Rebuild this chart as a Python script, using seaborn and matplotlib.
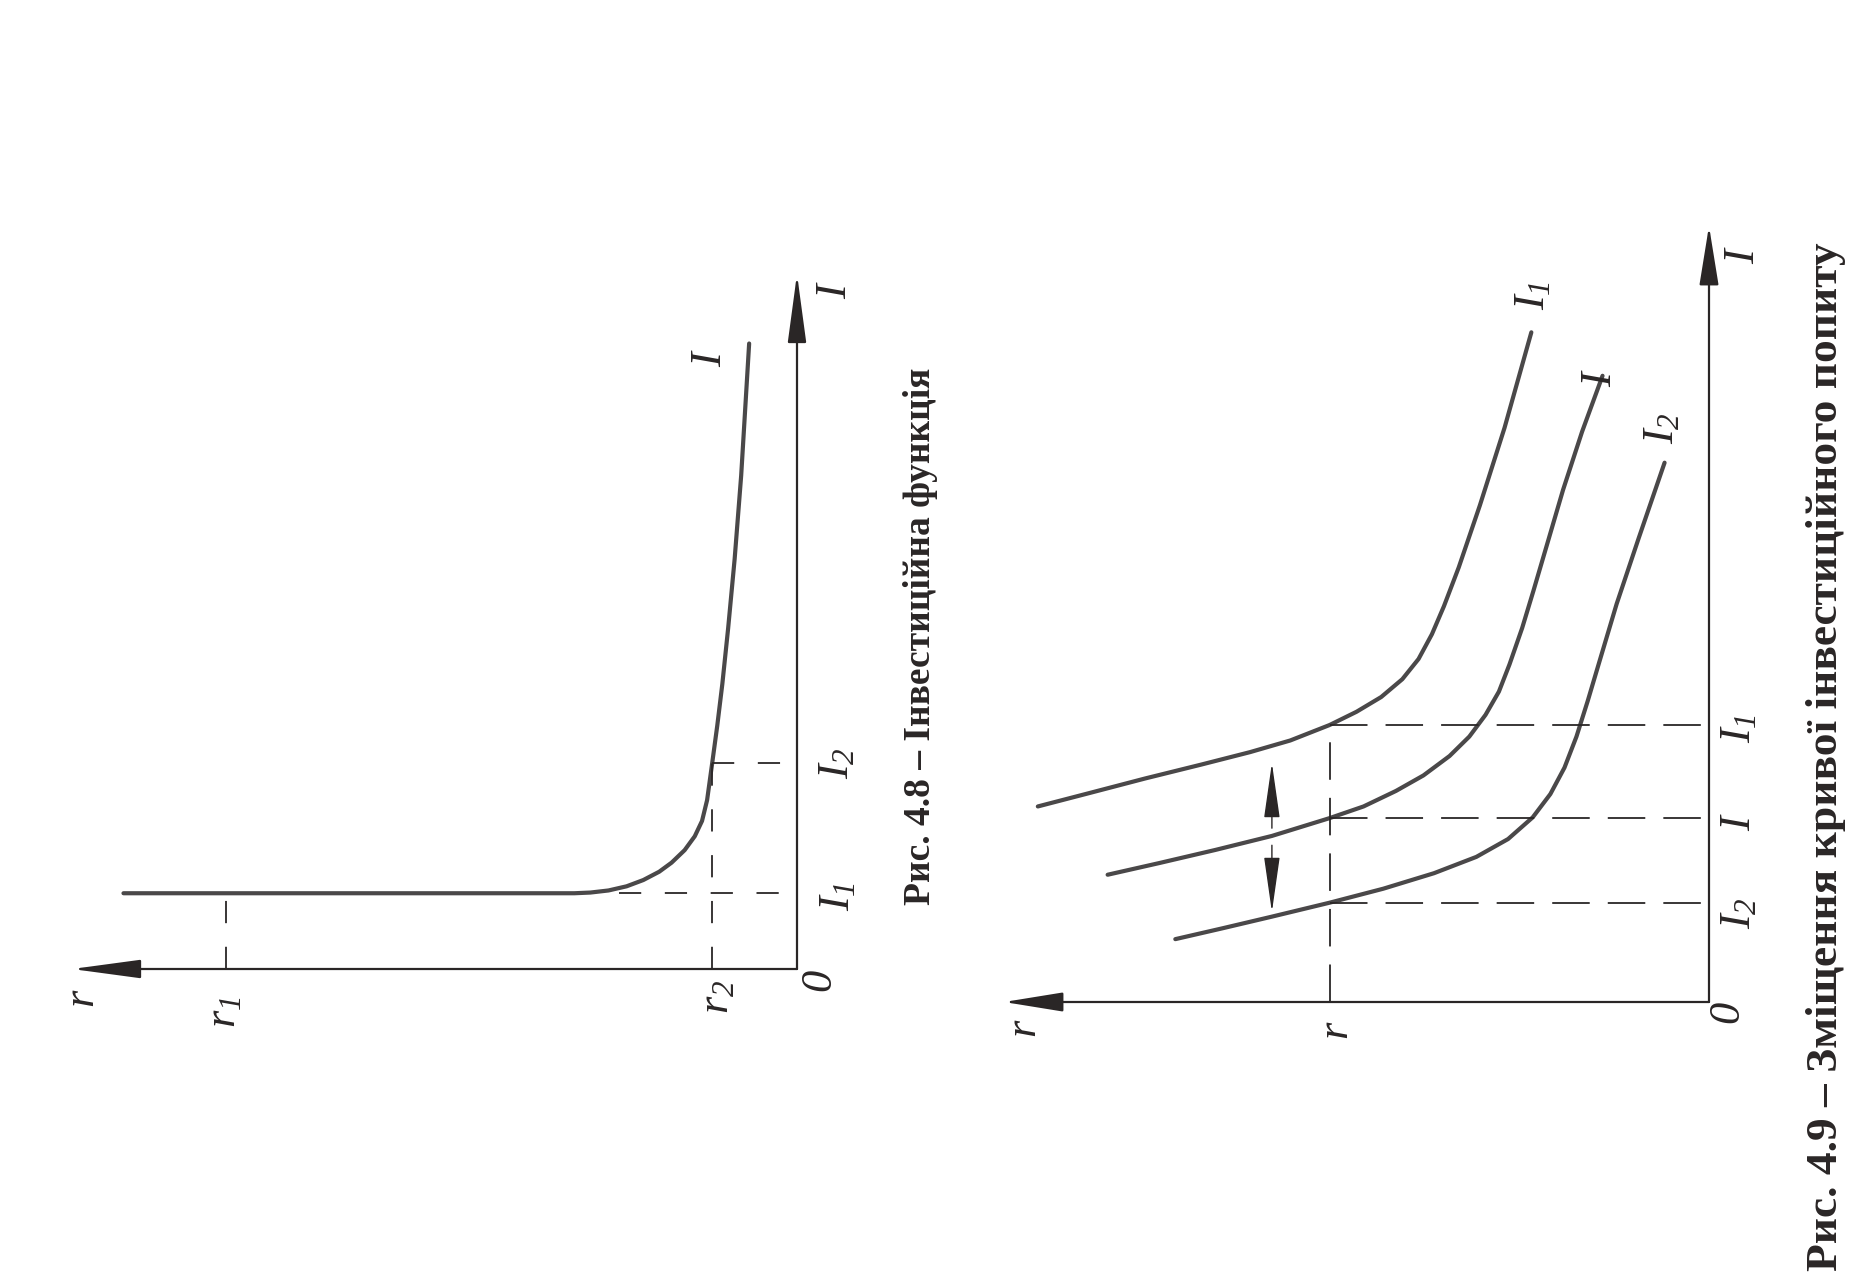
import matplotlib
matplotlib.use("Agg")
import matplotlib.pyplot as plt
import seaborn as sns
import pandas as pd

# ---------------- data: Fig. 4.8 (r along horizontal, pointing left; I vertical) -------------
f1_r = [9.29, 6.00, 3.07, 2.85, 2.60, 2.35, 2.12, 1.90, 1.73, 1.55, 1.41, 1.31, 1.24, 1.17,
        1.10, 1.03, 0.95, 0.86, 0.77, 0.66]
f1_I = [1.09, 1.09, 1.09, 1.10, 1.13, 1.19, 1.28, 1.40, 1.53, 1.71, 1.91, 2.13, 2.43, 2.96,
        3.50, 4.10, 4.90, 5.90, 7.10, 9.00]
f1_r_levels = [7.88, 1.17]          # r1, r2
f1_I_levels = [1.09, 2.96]          # I1, I2
f1_I1_start = 2.45

# ---------------- data: Fig. 4.9 -------------------------------------------------------------
c_I1_r = [9.52, 8.80, 8.00, 7.20, 6.51, 5.94, 5.38, 5.00, 4.65, 4.35, 4.12, 3.93, 3.76,
          3.55, 3.25, 2.90, 2.52]
c_I1_I = [2.52, 2.69, 2.88, 3.06, 3.22, 3.37, 3.57, 3.74, 3.93, 4.16, 4.42, 4.74, 5.10,
          5.60, 6.40, 7.40, 8.63]
c_I_r = [8.53, 7.80, 7.00, 6.20, 5.38, 4.90, 4.44, 4.05, 3.68, 3.40, 3.17, 2.98, 2.83,
         2.65, 2.49, 2.27, 2.07, 1.80, 1.51]
c_I_I = [1.64, 1.79, 1.96, 2.14, 2.37, 2.52, 2.72, 2.92, 3.17, 3.42, 3.70, 4.00, 4.35,
         4.82, 5.30, 5.98, 6.60, 7.35, 8.07]
c_I2_r = [7.57, 6.90, 6.20, 5.38, 4.62, 3.90, 3.30, 2.85, 2.50, 2.25, 2.05, 1.88, 1.72,
          1.55, 1.31, 1.00, 0.63]
c_I2_I = [0.81, 0.95, 1.10, 1.28, 1.46, 1.66, 1.87, 2.10, 2.38, 2.68, 3.02, 3.42, 3.88,
          4.40, 5.13, 5.97, 6.95]
f2_r_level = 5.38
f2_I_levels = [3.57, 2.37, 1.28]    # I1, I, I2

caption1 = "Рис. 4.8 – Інвестиційна функція"
caption2 = "Рис. 4.9 – Зміщення кривої інвестиційного попиту"

# ---------------- style -----------------------------------------------------------------------
sns.set_style("white")
plt.rcParams["font.family"] = ["Liberation Serif", "DejaVu Serif"]
plt.rcParams["mathtext.fontset"] = "custom"
plt.rcParams["mathtext.it"] = "Liberation Serif:italic"
plt.rcParams["mathtext.rm"] = "Liberation Serif:italic"
plt.rcParams["lines.scale_dashes"] = False
plt.rcParams["lines.solid_joinstyle"] = "round"
plt.rcParams["lines.solid_capstyle"] = "round"

W, H = 1871, 1276
fig = plt.figure(figsize=(W / 100, H / 100), dpi=100)
fig.patch.set_facecolor("white")

CURVE = "#4a4849"
AX = "#2a2626"
TXT = "#2a2626"
LAB = 32


def px_axes(x0, x1, y_top, y_bot):
    return fig.add_axes([x0 / W, 1 - y_bot / H, (x1 - x0) / W, (y_bot - y_top) / H])


def axis_arrows(ax, hl, hw):
    st = f"-|>,head_length={hl},head_width={hw}"
    for xy in [(10, 0), (0, 10)]:
        ax.annotate("", xy=xy, xytext=(0, 0),
                    arrowprops=dict(arrowstyle=st, lw=1.6, color=AX, shrinkA=0, shrinkB=0,
                                    mutation_scale=10))


def small_arrow(ax, start, end):
    ax.annotate("", xy=end, xytext=start,
                arrowprops=dict(arrowstyle="-|>,head_length=3.5,head_width=0.5", lw=1.0,
                                color=AX, shrinkA=0, shrinkB=0, mutation_scale=10))


def lab(ax, x, y, s, size=LAB):
    ax.text(x, y, s, rotation=90, ha="center", va="center", fontsize=size, color=TXT,
            fontstyle="italic", clip_on=False)


# ================= Fig 4.8 =================
ax1 = px_axes(72, 797, 274, 969)
ax1.set_xlim(10, 0)
ax1.set_ylim(0, 10)
ax1.axis("off")
axis_arrows(ax1, 4.3, 0.58)

df1 = pd.DataFrame({"r": f1_r, "I": f1_I})
sns.lineplot(data=df1, x="r", y="I", sort=False, estimator=None, ax=ax1,
             color=CURVE, lw=3.0, legend=False)
for ln in ax1.lines:
    ln.set_clip_on(False)

dash1 = (0, (16, 17))
ax1.plot([f1_r_levels[0]] * 2, [0, f1_I_levels[0]], color=AX, lw=1.3, ls=dash1)
ax1.plot([f1_r_levels[1]] * 2, [0, f1_I_levels[1]], color=AX, lw=1.3, ls=dash1)
ax1.plot([f1_I1_start, 0], [f1_I_levels[0]] * 2, color=AX, lw=1.3, ls=dash1)
ax1.plot([f1_r_levels[1], 0], [f1_I_levels[1]] * 2, color=AX, lw=1.3, ls=dash1)

lab(ax1, 9.85, -0.42, "$r$")
lab(ax1, 7.90, -0.62, "$r_1$")
lab(ax1, 1.10, -0.40, "$r_2$")
lab(ax1, -0.33, -0.17, "$0$")
lab(ax1, -0.57, 1.04, "$I_1$")
lab(ax1, -0.55, 2.96, "$I_2$")
lab(ax1, -0.52, 9.78, "$I$")
lab(ax1, 1.20, 8.80, "$I$")

# ================= Fig 4.9 =================
ax2 = px_axes(1004, 1709, 226, 1002)
ax2.set_xlim(10, 0)
ax2.set_ylim(0, 10)
ax2.axis("off")
axis_arrows(ax2, 3.7, 0.6)

df2 = pd.concat([
    pd.DataFrame({"r": c_I1_r, "I": c_I1_I, "curve": "I1"}),
    pd.DataFrame({"r": c_I_r, "I": c_I_I, "curve": "I"}),
    pd.DataFrame({"r": c_I2_r, "I": c_I2_I, "curve": "I2"}),
])
sns.lineplot(data=df2, x="r", y="I", units="curve", sort=False, estimator=None, ax=ax2,
             color=CURVE, lw=3.0, legend=False)

dash2 = (0, (27, 13))
ax2.plot([f2_r_level] * 2, [0, f2_I_levels[0]], color=AX, lw=1.3, ls=dash2)
for lv in f2_I_levels:
    ax2.plot([f2_r_level, 0], [lv, lv], color=AX, lw=1.3, ls=dash2)

# vertical double arrow
small_arrow(ax2, (6.2, 2.24), (6.2, 3.08))
small_arrow(ax2, (6.2, 2.02), (6.2, 1.16))
# I2 <- I -> I1 along the I axis
small_arrow(ax2, (-0.37, 2.52), (-0.37, 3.30))
small_arrow(ax2, (-0.37, 2.12), (-0.37, 1.42))

lab(ax2, 9.70, -0.34, "$r$")
lab(ax2, 5.27, -0.37, "$r$")
lab(ax2, -0.28, -0.15, "$0$")
lab(ax2, -0.48, 9.63, "$I$")
lab(ax2, 2.50, 9.10, "$I_1$")
lab(ax2, 1.55, 8.05, "$I$")
lab(ax2, 0.66, 7.40, "$I_2$")
lab(ax2, -0.42, 3.52, "$I_1$")
lab(ax2, -0.42, 2.32, "$I$")
lab(ax2, -0.42, 1.15, "$I_2$")

# ================= captions =================
fig.text(921 / W, 1 - 636 / H, caption1, rotation=90, ha="center", va="center",
         fontsize=27, fontweight="bold", color=TXT)
fig.text(1826 / W, 1 - 757 / H, caption2, rotation=90, ha="center", va="center",
         fontsize=32.7, fontweight="bold", color=TXT)

fig.savefig("out.png", dpi=100, facecolor="white")
